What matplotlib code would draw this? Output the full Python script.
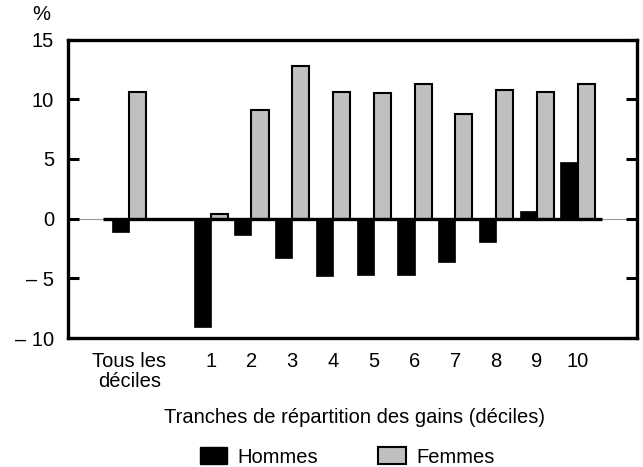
import matplotlib
matplotlib.use("Agg")
import matplotlib.pyplot as plt
from matplotlib.patches import Patch
import numpy as np

plt.rcParams['font.family'] = ['Liberation Sans', 'DejaVu Sans']

categories = ["Tous les\ndéciles", "1", "2", "3", "4", "5", "6", "7", "8", "9", "10"]
hommes = [-1.1, -9.1, -1.4, -3.3, -4.8, -4.7, -4.7, -3.6, -2.0, 0.6, 4.7]
femmes = [10.6, 0.4, 9.1, 12.8, 10.6, 10.5, 11.3, 8.8, 10.8, 10.6, 11.3]
yticks = [-10, -5, 0, 5, 10, 15]
ytick_labels = ["– 10", "– 5", "0", "5", "10", "15"]

FS = 14.5

fig = plt.figure(figsize=(6.43, 4.67), dpi=100)
ax = fig.add_axes([68/643, 1-338/467, (636.7-68)/643, (338-39.5)/467])

pos = np.array([0] + list(range(2, 12)), dtype=float)
w = 0.42
ax.bar(pos - w/2, hommes, width=w, color='black', edgecolor='black', linewidth=0.5, zorder=2)
ax.bar(pos + w/2, femmes, width=w, color='#c0c0c0', edgecolor='black', linewidth=1.5, zorder=2)

# zero line
ax.axhline(0, color='#999999', linewidth=0.8, zorder=1)
ax.plot([-0.65, 11.6], [0, 0], color='black', linewidth=2.4, zorder=3, solid_capstyle='butt')

ax.set_xlim(-1.5, 12.45)
ax.set_ylim(-10, 15)
ax.set_yticks(yticks)
ax.set_yticklabels(ytick_labels, fontsize=FS)
ax.tick_params(axis='y', direction='in', length=8, width=2.2, right=True, pad=10)

ax.set_xticks(pos)
ax.set_xticklabels(categories, fontsize=FS, linespacing=1.05)
ax.tick_params(axis='x', length=0, pad=10)

for s in ax.spines.values():
    s.set_linewidth(2.4)

fig.text(41/643, 1-14/467, "%", fontsize=FS, ha='center', va='center')
fig.text(355/643, 1-423/467, "Tranches de répartition des gains (déciles)", fontsize=FS,
         ha='center', va='baseline')

handles = [Patch(facecolor='black', edgecolor='black', label='Hommes'),
           Patch(facecolor='#c0c0c0', edgecolor='black', linewidth=1.5, label='Femmes')]
fig.legend(handles=handles, loc='center', bbox_to_anchor=(347/643, 1-457/467), ncol=2,
           frameon=False, fontsize=FS, handlelength=1.37, handleheight=0.88,
           columnspacing=3.0, handletextpad=0.5, borderpad=0, borderaxespad=0)

fig.savefig("out.png", dpi=100)
